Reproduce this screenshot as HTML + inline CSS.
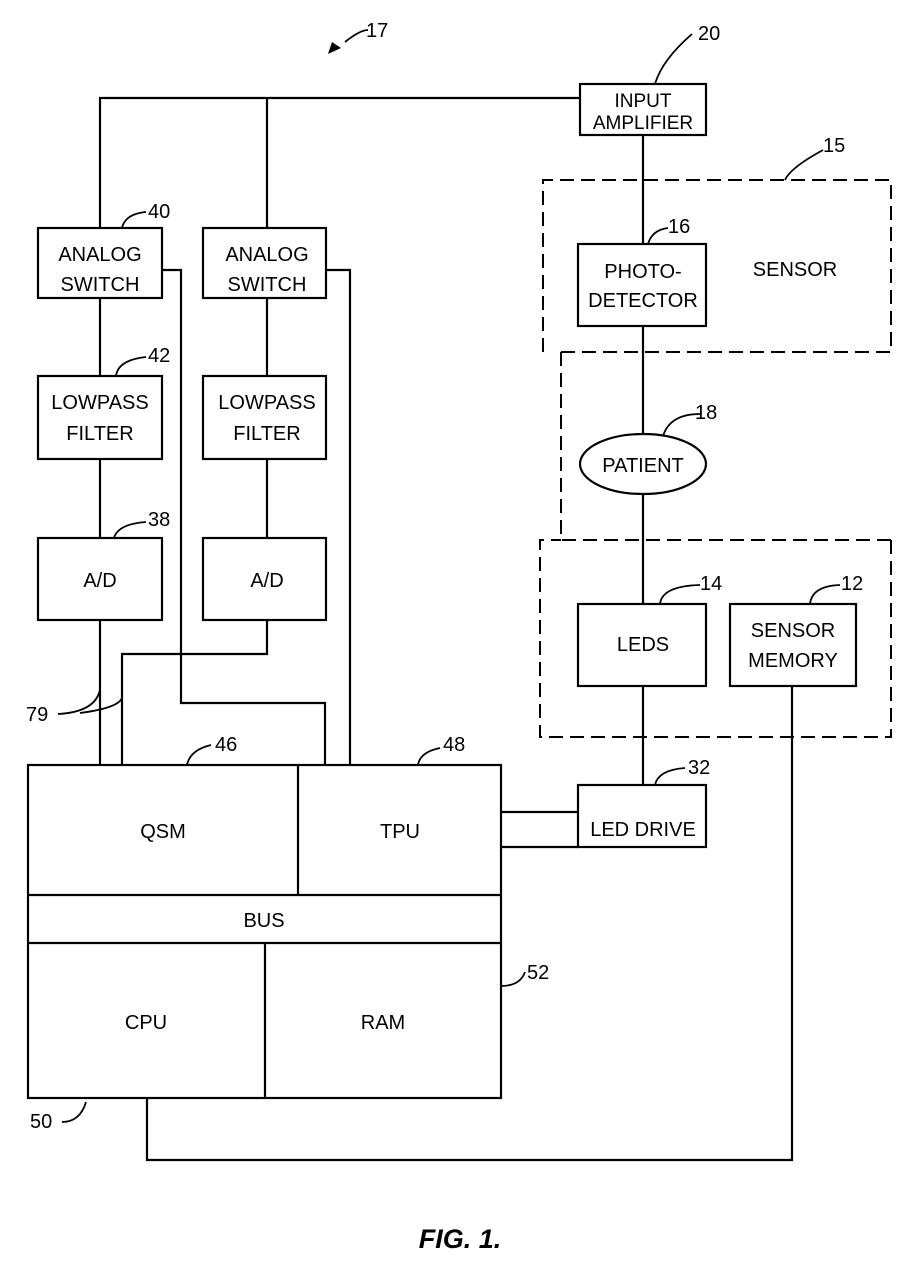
<!DOCTYPE html>
<html><head><style>
body{margin:0;background:#fff}
svg text{font-family:"Liberation Sans",sans-serif;font-size:20px;fill:#000}
</style></head><body>
<svg width="921" height="1264" viewBox="0 0 921 1264" xmlns="http://www.w3.org/2000/svg">
<g fill="none" stroke="#000" stroke-width="2.2">
<polyline points="100,228 100,98 580,98"/>
<line x1="267" y1="98" x2="267" y2="228"/>
<rect x="38" y="228" width="124" height="70"/>
<rect x="203" y="228" width="123" height="70"/>
<rect x="38" y="376" width="124" height="83"/>
<rect x="203" y="376" width="123" height="83"/>
<rect x="38" y="538" width="124" height="82"/>
<rect x="203" y="538" width="123" height="82"/>
<line x1="100" y1="298" x2="100" y2="376"/>
<line x1="267" y1="298" x2="267" y2="376"/>
<line x1="100" y1="459" x2="100" y2="538"/>
<line x1="267" y1="459" x2="267" y2="538"/>
<line x1="100" y1="620" x2="100" y2="765"/>
<polyline points="267,620 267,654 122,654 122,765"/>
<polyline points="162,270 181,270 181,703 325,703 325,765"/>
<polyline points="326,270 350,270 350,765"/>
<rect x="28" y="765" width="473" height="333"/>
<line x1="298" y1="765" x2="298" y2="895"/>
<line x1="28" y1="895" x2="501" y2="895"/>
<line x1="28" y1="943" x2="501" y2="943"/>
<line x1="265" y1="943" x2="265" y2="1098"/>
<rect x="580" y="84" width="126" height="51"/>
<line x1="643" y1="135" x2="643" y2="244"/>
<rect x="578" y="244" width="128" height="82"/>
<line x1="643" y1="326" x2="643" y2="434"/>
<ellipse cx="643" cy="464" rx="63" ry="30"/>
<line x1="643" y1="494" x2="643" y2="604"/>
<rect x="578" y="604" width="128" height="82"/>
<rect x="730" y="604" width="126" height="82"/>
<line x1="643" y1="686" x2="643" y2="785"/>
<rect x="578" y="785" width="128" height="62"/>
<line x1="501" y1="812" x2="578" y2="812"/>
<line x1="501" y1="847" x2="578" y2="847"/>
<polyline points="792,686 792,1160 147,1160 147,1098"/>
</g>
<g fill="none" stroke="#000" stroke-width="2" stroke-dasharray="14,7">
<polyline points="543,352 543,180 891,180 891,352 561,352"/>
<polyline points="561,352 561,540 891,540"/>
<polyline points="891,540 891,737 540,737 540,540 561,540"/>
</g>
<g fill="none" stroke="#000" stroke-width="1.8">
<path d="M345,42 Q360,30 368,30"/>
<path d="M655,84 Q662,60 692,34"/>
<path d="M785,180 Q790,168 823,150"/>
<path d="M122,228 Q125,214 146,212"/>
<path d="M648,244 Q652,230 668,228"/>
<path d="M116,376 Q118,360 146,357"/>
<path d="M663,436 Q670,414 700,414"/>
<path d="M114,538 Q118,524 146,522"/>
<path d="M660,604 Q662,586 700,585"/>
<path d="M810,604 Q812,586 840,585"/>
<path d="M58,714 Q95,712 100,690"/><path d="M80,713 Q118,708 122,698"/>
<path d="M187,765 Q190,750 211,745"/>
<path d="M418,765 Q420,752 440,748"/>
<path d="M655,785 Q658,770 685,768"/>
<path d="M501,986 Q520,986 525,972"/>
<path d="M62,1122 Q80,1122 86,1102"/>
</g>
<polygon points="328,54 332,42 341,48" fill="#000"/>
<g text-anchor="middle">
<text x="643" y="107" style="font-size:19px">INPUT</text><text x="643" y="129" style="font-size:19px">AMPLIFIER</text>
<text x="100" y="261">ANALOG</text><text x="100" y="291">SWITCH</text>
<text x="267" y="261">ANALOG</text><text x="267" y="291">SWITCH</text>
<text x="100" y="409">LOWPASS</text><text x="100" y="440">FILTER</text>
<text x="267" y="409">LOWPASS</text><text x="267" y="440">FILTER</text>
<text x="100" y="587">A/D</text><text x="267" y="587">A/D</text>
<text x="643" y="278">PHOTO-</text><text x="643" y="307">DETECTOR</text>
<text x="795" y="276">SENSOR</text>
<text x="643" y="472">PATIENT</text>
<text x="643" y="651">LEDS</text>
<text x="793" y="637">SENSOR</text><text x="793" y="667">MEMORY</text>
<text x="643" y="836">LED DRIVE</text>
<text x="163" y="838">QSM</text><text x="400" y="838">TPU</text>
<text x="264" y="927">BUS</text>
<text x="146" y="1029">CPU</text><text x="383" y="1029">RAM</text>
</g>
<text x="366" y="37">17</text>
<text x="698" y="40">20</text>
<text x="823" y="152">15</text>
<text x="148" y="218">40</text>
<text x="668" y="233">16</text>
<text x="148" y="362">42</text>
<text x="695" y="419">18</text>
<text x="148" y="526">38</text>
<text x="700" y="590">14</text>
<text x="841" y="590">12</text>
<text x="26" y="721">79</text>
<text x="215" y="751">46</text>
<text x="443" y="751">48</text>
<text x="688" y="774">32</text>
<text x="527" y="979">52</text>
<text x="30" y="1128">50</text>
<text x="460" y="1248" text-anchor="middle" style="font-size:27px;font-weight:bold;font-style:italic">FIG. 1.</text>
</svg>
</body></html>
